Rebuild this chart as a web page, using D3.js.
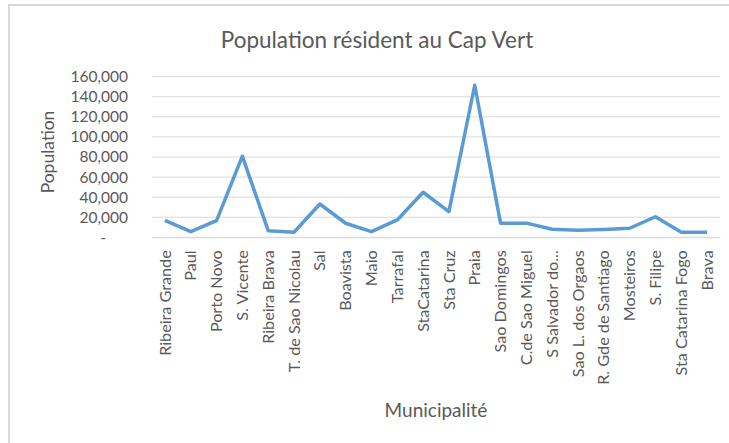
<!DOCTYPE html>
<html>
<head>
<meta charset="utf-8">
<script src="https://cdn.jsdelivr.net/npm/d3@7"></script>
<style>
  body { margin: 0; background: #fff; }
  text { font-family: Lato, "Open Sans", sans-serif; fill: #595959; }
</style>
</head>
<body>
<div id="chart"></div>
<script>
// Population résident au Cap Vert, par municipalité
const municipalities = [
  "Ribeira Grande", "Paul", "Porto Novo", "S. Vicente", "Ribeira Brava",
  "T. de Sao Nicolau", "Sal", "Boavista", "Maio", "Tarrafal", "StaCatarina",
  "Sta Cruz", "Praia", "Sao Domingos", "C.de Sao Miguel", "S Salvador do...",
  "Sao L. dos Orgaos", "R. Gde de Santiago", "Mosteiros", "S. Filipe",
  "Sta Catarina Fogo", "Brava"
];
const population = [
  16800, 5600, 16600, 80800, 6600,
  5000, 33200, 14000, 5600, 17300, 44900,
  25600, 151500, 14100, 14100, 8000,
  7000, 7800, 9000, 20500,
  5000, 5000
];
const yTicks = [0, 20000, 40000, 60000, 80000, 100000, 120000, 140000, 160000];

const W = 729, H = 443;
const plot = { left: 152, right: 720, top: 76.7, bottom: 237.3 };

const svg = d3.select("#chart")
  .append("svg")
  .attr("width", W)
  .attr("height", H);

// chart frame (only top and left edges visible in the shot)
svg.append("rect")
  .attr("x", 9).attr("y", 5)
  .attr("width", W + 20).attr("height", H + 20)
  .attr("fill", "none")
  .attr("stroke", "#d9d9d9")
  .attr("stroke-width", 2);

const x = d3.scaleBand()
  .domain(municipalities)
  .range([plot.left, plot.right]);

const y = d3.scaleLinear()
  .domain([0, 160000])
  .range([plot.bottom, plot.top]);

// gridlines
svg.append("g")
  .selectAll("line")
  .data(yTicks)
  .join("line")
  .attr("x1", plot.left)
  .attr("x2", plot.right)
  .attr("y1", d => y(d))
  .attr("y2", d => y(d))
  .attr("stroke", "#d9d9d9")
  .attr("stroke-width", 1);

// y axis labels
const fmt = d3.format(",");
const yAxis = svg.append("g")
  .attr("transform", `translate(${plot.left - 21}, 0)`)
  .call(d3.axisLeft(y).tickValues(yTicks).tickSize(0)
    .tickFormat(d => d === 0 ? "-" : fmt(d)));
yAxis.select(".domain").remove();
yAxis.selectAll("text")
  .style("font-size", "15.5px")
  .style("fill", "#595959")
  .attr("dx", d => d === 0 ? "-22" : "0");

// x axis labels
const xAxis = svg.append("g")
  .attr("transform", `translate(0, ${plot.bottom})`)
  .call(d3.axisBottom(x).tickSize(0));
xAxis.select(".domain")
  .attr("stroke", "#d9d9d9");
xAxis.selectAll("text")
  .style("font-size", "16.2px")
  .style("fill", "#595959")
  .attr("text-anchor", "end")
  .attr("transform", "rotate(-90)")
  .attr("x", -13)
  .attr("y", 0)
  .attr("dy", "0.35em");

// line
svg.append("path")
  .datum(population)
  .attr("fill", "none")
  .attr("stroke", "#5b9bd5")
  .attr("stroke-width", 3.5)
  .attr("stroke-linejoin", "round")
  .attr("d", d3.line()
    .x((d, i) => x(municipalities[i]) + x.bandwidth() / 2)
    .y(d => y(d)));

// titles
svg.append("text")
  .attr("x", 377)
  .attr("y", 48)
  .attr("text-anchor", "middle")
  .style("font-size", "22.5px")
  .text("Population résident au Cap Vert");

svg.append("text")
  .attr("transform", `translate(54, 152) rotate(-90)`)
  .attr("text-anchor", "middle")
  .style("font-size", "17.5px")
  .text("Population");

svg.append("text")
  .attr("x", (plot.left + plot.right) / 2)
  .attr("y", 417)
  .attr("text-anchor", "middle")
  .style("font-size", "19px")
  .text("Municipalité");
</script>
</body>
</html>
